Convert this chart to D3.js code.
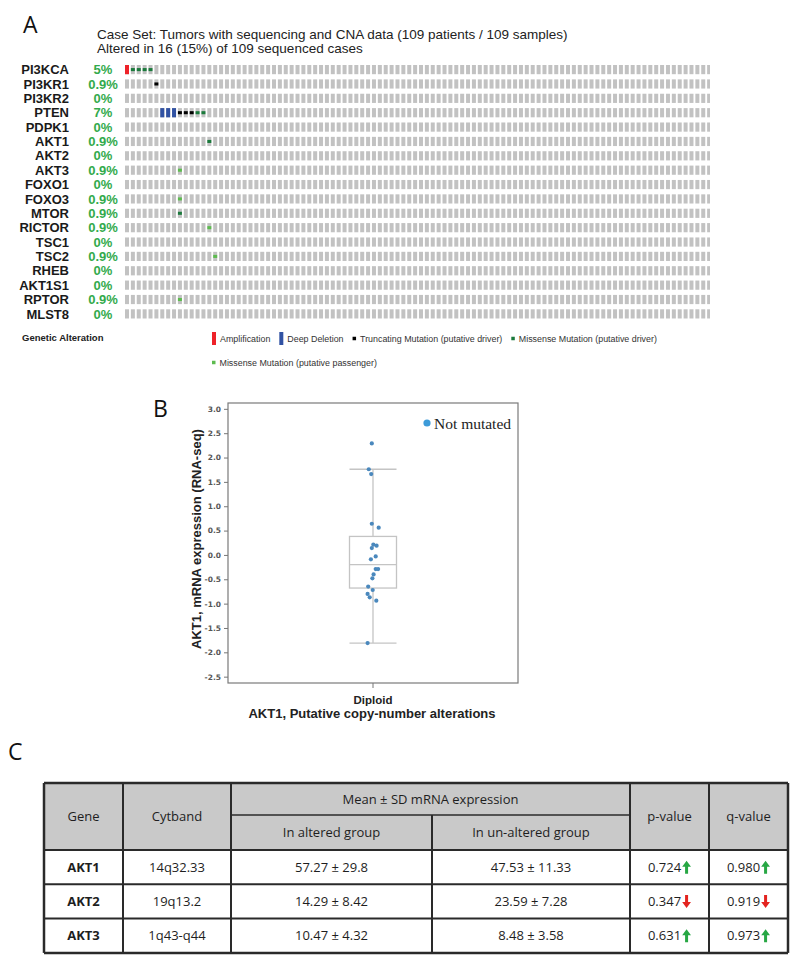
<!DOCTYPE html>
<html><head><meta charset="utf-8">
<script src="https://cdn.jsdelivr.net/npm/d3@7/dist/d3.min.js"></script>
<style>body{margin:0;background:#fff;} svg{display:block;}</style>
</head><body>
<svg id="fig" width="800" height="965"></svg>
<script>
// ================= Panel A data =================
const genes = ["PI3KCA","PI3KR1","PI3KR2","PTEN","PDPK1","AKT1","AKT2","AKT3","FOXO1","FOXO3","MTOR","RICTOR","TSC1","TSC2","RHEB","AKT1S1","RPTOR","MLST8"];
const pctLabels = ["5%","0.9%","0%","7%","0%","0.9%","0%","0.9%","0%","0.9%","0.9%","0.9%","0%","0.9%","0%","0%","0.9%","0%"];
const nSamples = 109;
const caseSetText = "Case Set: Tumors with sequencing and CNA data (109 patients / 109 samples)";
const alteredText = "Altered in 16 (15%) of 109 sequenced cases";
// alterations (gene, sample column, type)
const altGene   = ["PI3KCA","PI3KCA","PI3KCA","PI3KCA","PI3KCA","PI3KR1","PTEN","PTEN","PTEN","PTEN","PTEN","PTEN","PTEN","PTEN","AKT1","AKT3","FOXO3","MTOR","RICTOR","TSC2","RPTOR"];
const altSample = [0,1,2,3,4,5,6,7,8,9,10,11,12,13,14,9,9,9,14,15,9];
const altType   = ["AMP","MIS_DRV","MIS_DRV","MIS_DRV","MIS_DRV","TRUNC","HOMDEL","HOMDEL","HOMDEL","TRUNC","TRUNC","TRUNC","MIS_DRV","MIS_DRV","MIS_DRV","MIS_PASS","MIS_PASS","MIS_DRV","MIS_PASS","MIS_PASS","MIS_PASS"];
const legendTypes  = ["AMP","HOMDEL","TRUNC","MIS_DRV","MIS_PASS"];
const legendLabels = ["Amplification","Deep Deletion","Truncating Mutation (putative driver)","Missense Mutation (putative driver)","Missense Mutation (putative passenger)"];

// ================= Panel B data =================
const categories = ["Diploid"];
const exprValues = [2.29,1.76,1.66,0.64,0.56,0.21,0.19,0.14,-0.03,-0.09,-0.29,-0.29,-0.40,-0.48,-0.65,-0.72,-0.80,-0.87,-0.94,-1.81];
const exprJitter = [-0.2,-0.7,-0.3,-0.2,0.95,0.05,0.6,-0.2,0.45,-0.35,0.45,0.85,0.1,-0.1,-0.8,-0.05,-0.9,-0.55,0.55,-0.9];
const boxStats = [-1.81,-0.68,-0.20,0.38,1.76]; // low whisker, q1, median, q3, high whisker
const yTicksB = [-2.5,-2.0,-1.5,-1.0,-0.5,0.0,0.5,1.0,1.5,2.0,2.5,3.0];

// ================= Panel C data =================
const tGenes     = ["AKT1","AKT2","AKT3"];
const tCytbands  = ["14q32.33","19q13.2","1q43-q44"];
const tAltMean   = [57.27,14.29,10.47];
const tAltSD     = [29.8,8.42,4.32];
const tUnaltMean = [47.53,23.59,8.48];
const tUnaltSD   = [11.33,7.28,3.58];
const tP         = ["0.724","0.347","0.631"];
const tQ         = ["0.980","0.919","0.973"];
const tDir       = ["up","down","up"];

// ================================================
const svg = d3.select("#fig");
const SANS = "'Liberation Sans', Arial, sans-serif";

const colors = {AMP:"#ee2229", HOMDEL:"#3152a3", TRUNC:"#000000", MIS_DRV:"#1b7a3c", MIS_PASS:"#5dbb4f"};
const grayCell = "#c2c2c2";

// Panel letters
const letterFont = "'Open Sans', sans-serif";
svg.append("text").attr("x",23).attr("y",33).text("A").style("font-family",letterFont).style("font-size","23px").attr("fill","#111");
svg.append("text").attr("x",153).attr("y",417).text("B").style("font-family",letterFont).style("font-size","23px").attr("fill","#111");
svg.append("text").attr("x",8).attr("y",760).text("C").style("font-family",letterFont).style("font-size","23px").attr("fill","#111");

// ---------------- Panel A ----------------
const gA = svg.append("g");
gA.append("text").attr("x",97).attr("y",39).text(caseSetText).style("font-family",SANS).style("font-size","13.5px").attr("fill","#222");
gA.append("text").attr("x",97).attr("y",52.5).text(alteredText).style("font-family",SANS).style("font-size","13.5px").attr("fill","#222");

const pitch = 5.88;
const xA = d3.scaleBand().domain(d3.range(nSamples)).range([125, 125 + pitch*(nSamples-0.32)]).paddingInner(0.32).paddingOuter(0);
const rowStep = 14.37;
const yA = d3.scaleBand().domain(genes).range([65, 65 + rowStep*(genes.length-0.36)]).paddingInner(0.36).paddingOuter(0);

svg.append("defs").append("clipPath").attr("id","onco").append("rect").attr("x",120).attr("y",55).attr("width",590).attr("height",275);
const cells = gA.append("g").attr("clip-path","url(#onco)");
genes.forEach(g => {
  cells.selectAll(null).data(d3.range(nSamples)).enter().append("rect")
    .attr("x", s => xA(s)).attr("y", yA(g)).attr("width", xA.bandwidth()).attr("height", yA.bandwidth())
    .attr("fill", grayCell);
});
const alts = altGene.map((g,i)=>({gene:g, sample:altSample[i], type:altType[i]}));
cells.selectAll(".alt").data(alts).enter().append("rect").attr("class","alt")
  .attr("x", d => xA(d.sample))
  .attr("y", d => (d.type==="AMP"||d.type==="HOMDEL") ? yA(d.gene) : yA(d.gene) + yA.bandwidth()/3)
  .attr("width", xA.bandwidth())
  .attr("height", d => (d.type==="AMP"||d.type==="HOMDEL") ? yA.bandwidth() : yA.bandwidth()/3)
  .attr("fill", d => colors[d.type]);

gA.selectAll(".gl").data(genes).enter().append("text")
  .attr("x",69).attr("y", g => yA(g)+yA.bandwidth()/2).attr("dy","0.36em")
  .attr("text-anchor","end").text(g=>g)
  .style("font-family",SANS).style("font-size","13px").style("font-weight","bold").attr("fill","#1a1a1a");
gA.selectAll(".pl").data(genes).enter().append("text")
  .attr("x",103).attr("y", g => yA(g)+yA.bandwidth()/2).attr("dy","0.36em")
  .attr("text-anchor","middle").text((g,i)=>pctLabels[i])
  .style("font-family",SANS).style("font-size","13px").style("font-weight","bold").attr("fill","#33aa4c");

// legend
gA.append("text").attr("x",22).attr("y",341).text("Genetic Alteration")
  .style("font-family",SANS).style("font-size","9.5px").style("font-weight","bold").attr("fill","#222");
const legStart = 212;
let lx = legStart;
legendTypes.forEach((t,i) => {
  let rowY = 338.5;
  if (i === 4) { lx = legStart; rowY = 362.5; }
  const full = (t==="AMP"||t==="HOMDEL");
  const w = full ? 4 : 3.5;
  const h = full ? 13 : 3.5;
  gA.append("rect").attr("x",lx).attr("y",rowY-h/2).attr("width",w).attr("height",h).attr("fill",colors[t]);
  const tx = gA.append("text").attr("x",lx+w+4).attr("y",rowY+3.2).text(legendLabels[i])
    .style("font-family",SANS).style("font-size","8.9px").attr("fill","#333");
  lx = lx + w + 4 + tx.node().getComputedTextLength() + 9;
});

// ---------------- Panel B ----------------
const gB = svg.append("g");
const fL = 228, fR = 518, fT = 403, fB = 683;
const yB = d3.scaleLinear().domain([-2.63, 3.12]).range([fB, fT]);
const xB = d3.scaleBand().domain(categories).range([fL, fR]);
gB.append("rect").attr("x",fL).attr("y",fT).attr("width",fR-fL).attr("height",fB-fT)
  .attr("fill","none").attr("stroke","#7a7a7a").attr("stroke-width",1.2);
const yAxisB = d3.axisLeft(yB).tickValues(yTicksB).tickFormat(d3.format(".1f")).tickSize(4).tickPadding(3);
const yAx = gB.append("g").attr("transform",`translate(${fL},0)`).call(yAxisB);
yAx.select(".domain").remove();
yAx.selectAll(".tick line").attr("stroke","#777");
yAx.selectAll(".tick text").style("font-family","'DejaVu Sans', sans-serif").style("font-size","7.5px").style("font-weight","bold").attr("fill","#555")
  .text(d => d3.format(".1f")(d).replace("\u2212","-"));
const xAxisB = d3.axisBottom(xB).tickSize(5).tickPadding(8);
const xAx = gB.append("g").attr("transform",`translate(0,${fB})`).call(xAxisB);
xAx.select(".domain").remove();
xAx.selectAll(".tick line").attr("stroke","#777");
xAx.selectAll(".tick text").style("font-family",SANS).style("font-size","11.5px").style("font-weight","bold").attr("fill","#222");

const cx = xB("Diploid") + xB.bandwidth()/2;
const boxW = 47;
const boxG = gB.append("g").attr("stroke","#c4c4c4").attr("stroke-width",1.3).attr("fill","none");
boxG.append("line").attr("x1",cx).attr("x2",cx).attr("y1",yB(boxStats[4])).attr("y2",yB(boxStats[3]));
boxG.append("line").attr("x1",cx).attr("x2",cx).attr("y1",yB(boxStats[1])).attr("y2",yB(boxStats[0]));
boxG.append("line").attr("x1",cx-boxW/2).attr("x2",cx+boxW/2).attr("y1",yB(boxStats[4])).attr("y2",yB(boxStats[4]));
boxG.append("line").attr("x1",cx-boxW/2).attr("x2",cx+boxW/2).attr("y1",yB(boxStats[0])).attr("y2",yB(boxStats[0]));
boxG.append("rect").attr("x",cx-boxW/2).attr("y",yB(boxStats[3])).attr("width",boxW).attr("height",yB(boxStats[1])-yB(boxStats[3]));
boxG.append("line").attr("x1",cx-boxW/2).attr("x2",cx+boxW/2).attr("y1",yB(boxStats[2])).attr("y2",yB(boxStats[2]));

gB.selectAll(".pt").data(exprValues).enter().append("circle")
  .attr("cx",(v,i)=>cx + exprJitter[i]*6).attr("cy",v=>yB(v)).attr("r",2.1).attr("fill","#4a88bd");

gB.append("circle").attr("cx",427).attr("cy",423).attr("r",3.6).attr("fill","#3d9bd9");
gB.append("text").attr("x",434).attr("y",429).text("Not mutated")
  .style("font-family","'Liberation Serif', 'Times New Roman', serif").style("font-size","15.5px").attr("fill","#222");

gB.append("text").attr("transform",`translate(201,${(fT+fB)/2 - 4}) rotate(-90)`).attr("text-anchor","middle")
  .text("AKT1, mRNA expression (RNA-seq)").style("font-family",SANS).style("font-size","13px").style("font-weight","bold").attr("fill","#222");
gB.append("text").attr("x",cx-1).attr("y",718).attr("text-anchor","middle")
  .text("AKT1, Putative copy-number alterations").style("font-family",SANS).style("font-size","13px").style("font-weight","bold").attr("fill","#222");

// ---------------- Panel C (table) ----------------
const gC = svg.append("g");
const colX = [44,123,231,432,630,709,788];
const tTop = 783, tMid = 815, tHead = 850, rowH = 34.3;
const rowsY = d3.range(tGenes.length+1).map(i => tHead + i*rowH);
const TF = "'Open Sans', sans-serif";
gC.append("rect").attr("x",colX[0]).attr("y",tTop).attr("width",colX[6]-colX[0]).attr("height",tHead-tTop).attr("fill","#c9c9c9");
gC.append("rect").attr("x",colX[0]).attr("y",tHead).attr("width",colX[6]-colX[0]).attr("height",rowsY[3]-tHead).attr("fill","#ffffff");
const ln = (x1,y1,x2,y2,w) => gC.append("line").attr("x1",x1).attr("y1",y1).attr("x2",x2).attr("y2",y2).attr("stroke","#2a2a2a").attr("stroke-width",w);
ln(colX[0],tTop,colX[6],tTop,2.5);
ln(colX[2],tMid,colX[4],tMid,1.6);
ln(colX[0],tHead,colX[6],tHead,2.2);
rowsY.slice(1,3).forEach(y=>ln(colX[0],y,colX[6],y,2));
ln(colX[0],rowsY[3],colX[6],rowsY[3],2.5);
[0,1,2,4,5,6].forEach(i => ln(colX[i],tTop,colX[i],rowsY[3], (i===0||i===6)?2.5:2));
ln(colX[3],tMid,colX[3],rowsY[3],2);

const ctxt = (x,y,s,bold) => gC.append("text").attr("x",x).attr("y",y).attr("dy","0.35em").attr("text-anchor","middle").text(s)
  .style("font-family",TF).style("font-size","13px").style("font-weight",bold?"bold":"normal").attr("fill","#1e1e1e");
const mid = (a,b)=>(a+b)/2;
ctxt(mid(colX[2],colX[4]), mid(tTop,tMid), "Mean \u00B1 SD mRNA expression");
ctxt(mid(colX[2],colX[3]), mid(tMid,tHead), "In altered group");
ctxt(mid(colX[3],colX[4]), mid(tMid,tHead), "In un-altered group");
ctxt(mid(colX[0],colX[1]), mid(tTop,tHead), "Gene");
ctxt(mid(colX[1],colX[2]), mid(tTop,tHead), "Cytband");
ctxt(mid(colX[4],colX[5]), mid(tTop,tHead), "p-value");
ctxt(mid(colX[5],colX[6]), mid(tTop,tHead), "q-value");

const arrow = (x, yc, dir) => {
  const h = 13, hw = 4.4, sw = 1.5, head = 6;
  const top = yc - h/2, bot = yc + h/2;
  let p;
  if (dir === "up") {
    p = `M${x},${top} L${x+hw},${top+head} L${x+sw},${top+head} L${x+sw},${bot} L${x-sw},${bot} L${x-sw},${top+head} L${x-hw},${top+head} Z`;
    gC.append("path").attr("d",p).attr("fill","#27a744");
  } else {
    p = `M${x},${bot} L${x+hw},${bot-head} L${x+sw},${bot-head} L${x+sw},${top} L${x-sw},${top} L${x-sw},${bot-head} L${x-hw},${bot-head} Z`;
    gC.append("path").attr("d",p).attr("fill","#e3231f");
  }
};
const withArrow = (xc, y, s, dir) => {
  const t = ctxt(0, y, s, false).attr("text-anchor","start");
  const w = t.node().getComputedTextLength();
  const total = w + 1 + 9;
  const x0 = xc - total/2;
  t.attr("x", x0);
  arrow(x0 + w + 1 + 4.5, y, dir);
};
tGenes.forEach((g,i) => {
  const y = mid(rowsY[i], rowsY[i+1]);
  ctxt(mid(colX[0],colX[1]), y, g, true);
  ctxt(mid(colX[1],colX[2]), y, tCytbands[i], false);
  ctxt(mid(colX[2],colX[3]), y, `${tAltMean[i]} \u00B1 ${tAltSD[i]}`, false);
  ctxt(mid(colX[3],colX[4]), y, `${tUnaltMean[i]} \u00B1 ${tUnaltSD[i]}`, false);
  withArrow(mid(colX[4],colX[5]), y, tP[i], tDir[i]);
  withArrow(mid(colX[5],colX[6]), y, tQ[i], tDir[i]);
});
</script>
</body></html>
